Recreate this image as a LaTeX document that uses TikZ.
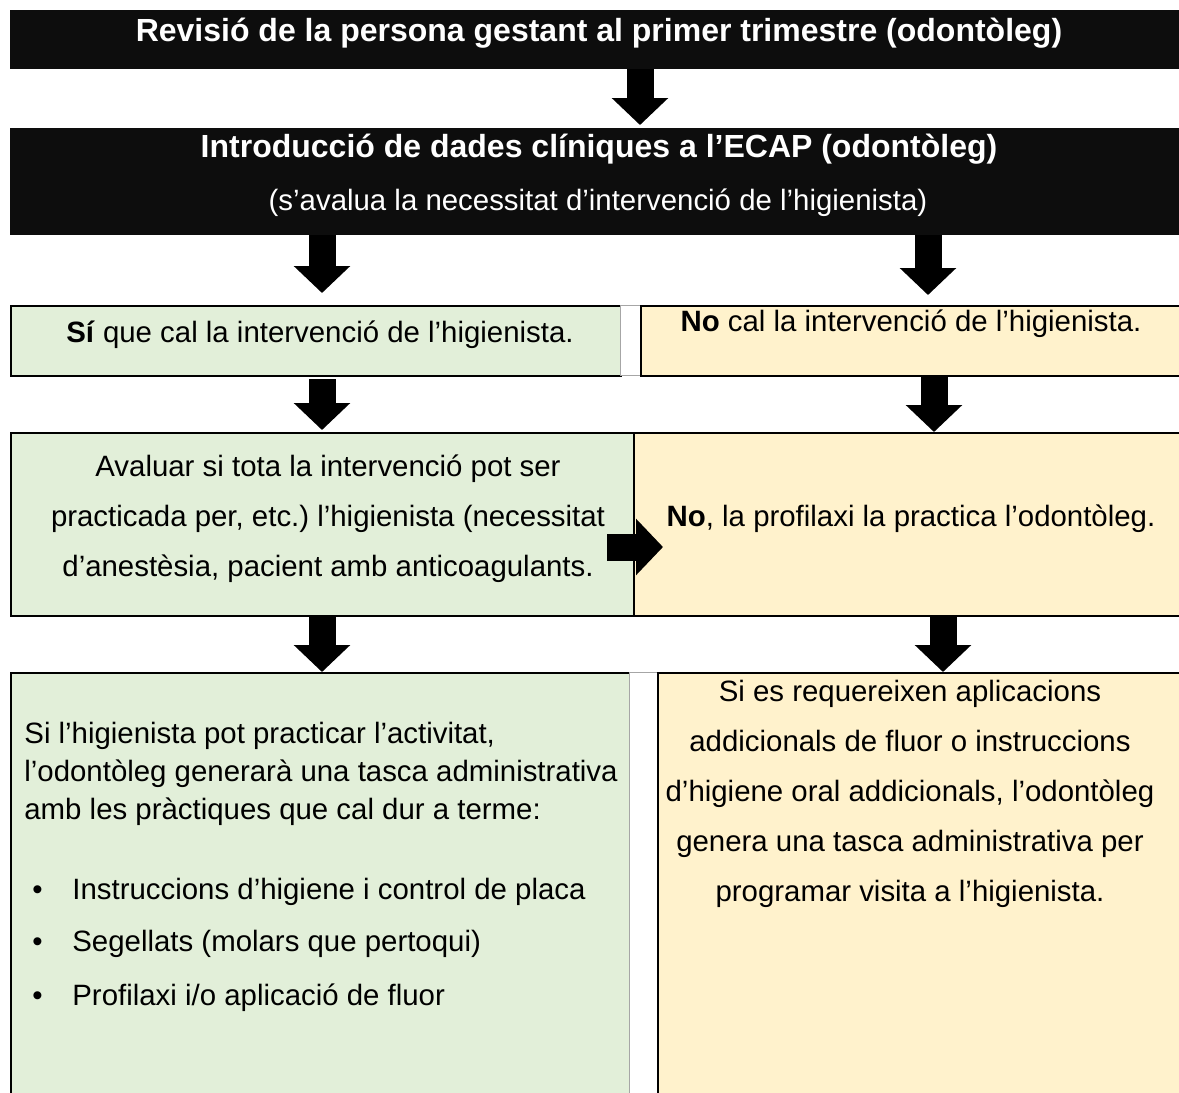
\documentclass[tikz,border=0pt]{standalone}
\usepackage{fontspec}
\setmainfont{Liberation Sans}
\usetikzlibrary{arrows.meta}
\definecolor{verd}{HTML}{E2EFD9}
\definecolor{groc}{HTML}{FFF2CC}
\definecolor{negre}{HTML}{0D0D0D}
\frenchspacing
\begin{document}
\begin{tikzpicture}[x=0.5pt,y=-0.5pt,
  caixa/.style={draw,line width=1pt,anchor=north west,inner sep=0pt},
  negra/.style={caixa,fill=negre,draw=negre},
  verda/.style={caixa,fill=verd},
  groga/.style={caixa,fill=groc},
  buida/.style={caixa,fill=white,draw=gray!70,line width=0.6pt},
  lletra/.style={font=\fontsize{14.7}{25}\selectfont,inner sep=0pt,align=center},
  linia/.style={lletra,text height=0.72em,text depth=0.2em},
  titol/.style={linia,text=white,font=\fontsize{16}{25}\selectfont\bfseries},
  fletxa/.style={line width=13.5pt,-{Triangle[width=27.5pt,length=13.5pt]}}]
\useasboundingbox (0,0) rectangle (1179,1093);
% caixes
\node (rev) at (10,10) [negra,minimum width=587.5pt,minimum height=28.5pt] {};
\node (ecap) at (10,128) [negra,minimum width=587.5pt,minimum height=52.5pt] {};
\node (si) at (10,305) [verda,minimum width=305pt,minimum height=35pt] {};
\node (buit1) at (620,305) [buida,minimum width=10pt,minimum height=35pt] {};
\node (no) at (640,305) [groga,minimum width=272.5pt,minimum height=35pt] {};
\node (aval) at (10,432) [verda,minimum width=311.5pt,minimum height=91.5pt] {};
\node (prof) at (633,432) [groga,minimum width=276pt,minimum height=91.5pt] {};
\node (activ) at (10,672) [verda,minimum width=309.5pt,minimum height=215pt] {};
\node (buit2) at (629,672) [buida,minimum width=14pt,minimum height=215pt] {};
\node (fluor) at (657,672) [groga,minimum width=264pt,minimum height=215pt] {};
% textos
\node (t-rev) at (599,36) [titol] {Revisió de la persona gestant al primer trimestre (odontòleg)};
\node (t-ecap) at (599,152) [titol] {Introducció de dades clíniques a l’ECAP (odontòleg)};
\node (t-aval1) at (598,205) [linia,text=white] {(s’avalua la necessitat d’intervenció de l’higienista)};
\node (t-si) at (320,337) [linia] {\textbf{Sí} que cal la intervenció de l’higienista.};
\node (t-no) at (911,326) [linia] {\textbf{No} cal la intervenció de l’higienista.};
\node (t-aval) at (328,519) [lletra] {Avaluar si tota la intervenció pot ser\\ practicada per, etc.) l’higienista (necessitat\\ d’anestèsia, pacient amb anticoagulants.};
\node (t-prof) at (911,521) [linia] {\textbf{No}, la profilaxi la practica l’odontòleg.};
\node (t-activ) at (24,722) [lletra,anchor=north west,align=left,font=\fontsize{14.7}{19}\selectfont] {Si l’higienista pot practicar l’activitat,\\ l’odontòleg generarà una tasca administrativa\\ amb les pràctiques que cal dur a terme:\\[21pt]
  \hspace*{4pt}\makebox[20pt][l]{\textbullet}Instruccions d’higiene i control de placa\\[7pt]
  \hspace*{4pt}\makebox[20pt][l]{\textbullet}Segellats (molars que pertoqui)\\[8pt]
  \hspace*{4pt}\makebox[20pt][l]{\textbullet}Profilaxi i/o aplicació de fluor};
\node (t-fluor) at (910,794) [lletra] {Si es requereixen aplicacions\\ addicionals de fluor o instruccions\\ d’higiene oral addicionals, l’odontòleg\\ genera una tasca administrativa per\\ programar visita a l’higienista.};
% fletxes
\draw[fletxa,shorten >=1.5pt] (rev.south -| 640,0) -- (ecap.north -| 640,0);
\draw[fletxa,shorten >=6pt] (ecap.south -| 322,0) -- (si.north -| 322,0);
\draw[fletxa,shorten >=5pt] (ecap.south -| 928,0) -- (no.north -| 928,0);
\draw[fletxa,shorten <=1pt,shorten >=1pt] (si.south -| 322,0) -- (aval.north -| 322,0);
\draw[fletxa] (no.south -| 934,0) -- (prof.north -| 934,0);
\draw[fletxa] ([xshift=-14pt,yshift=-11.25pt]aval.east) -- ([xshift=15pt,yshift=-11.25pt]prof.west);
\draw[fletxa] (aval.south -| 322,0) -- (activ.north -| 322,0);
\draw[fletxa] (prof.south -| 943,0) -- (fluor.north -| 943,0);
\end{tikzpicture}
\end{document}
